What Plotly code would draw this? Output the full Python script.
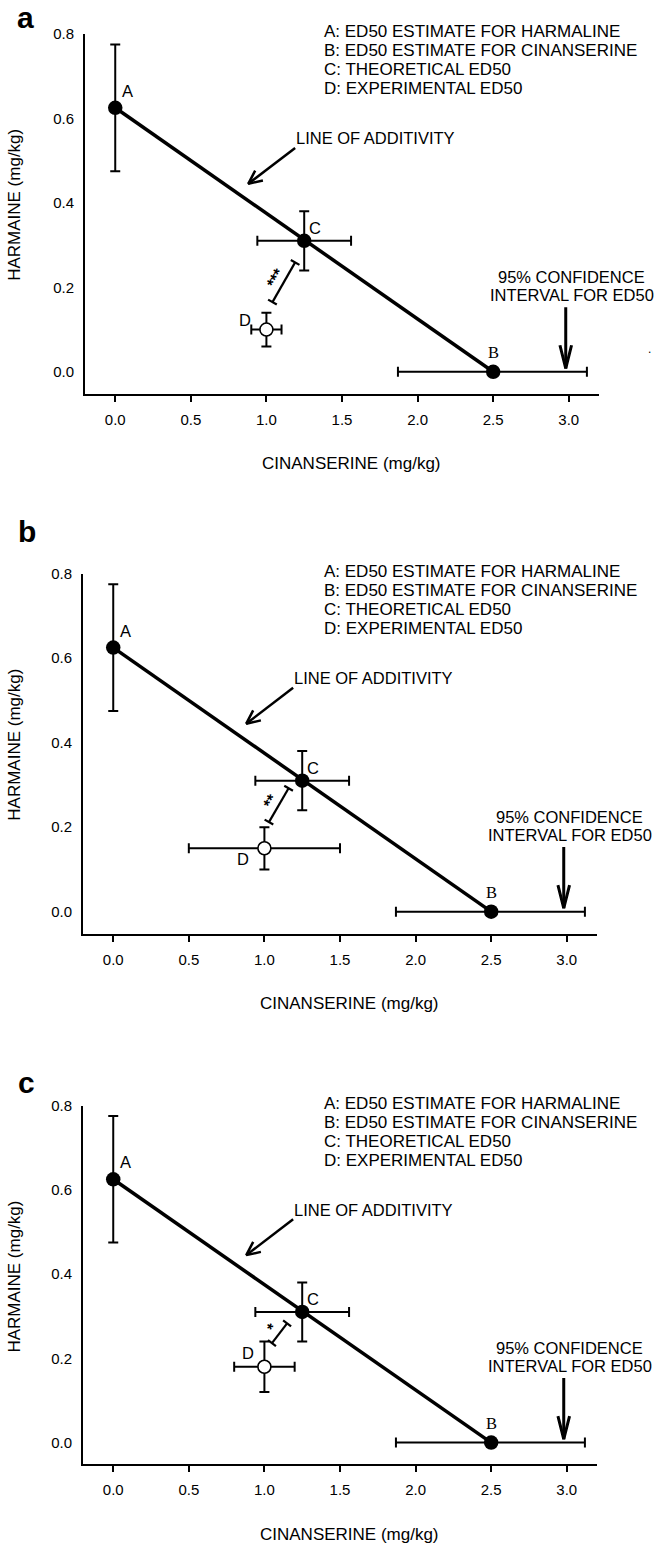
import math
import plotly.graph_objects as go

# ---------------- data ----------------
point_labels = ["A", "C", "B"]
point_x = [0.0, 1.25, 2.5]
point_y = [0.625, 0.31, 0.0]
point_x_lo = [0.0, 0.94, 1.87]
point_x_hi = [0.0, 1.56, 3.12]
point_y_lo = [0.475, 0.24, 0.0]
point_y_hi = [0.775, 0.38, 0.0]

exp_x = [1.0, 1.0, 1.0]
exp_y = [0.10, 0.15, 0.18]
exp_x_lo = [0.90, 0.50, 0.80]
exp_x_hi = [1.10, 1.50, 1.20]
exp_y_lo = [0.06, 0.10, 0.12]
exp_y_hi = [0.14, 0.20, 0.24]

sig_text = ["***", "**", "*"]
sig_x0 = [1.04, 1.03, 1.05]
sig_y0 = [0.165, 0.212, 0.236]
sig_x1 = [1.19, 1.16, 1.15]
sig_y1 = [0.259, 0.292, 0.283]

panel_letters = ["a", "b", "c"]
legend_lines = [
    "A: ED50 ESTIMATE FOR HARMALINE",
    "B: ED50 ESTIMATE FOR CINANSERINE",
    "C: THEORETICAL ED50",
    "D: EXPERIMENTAL ED50",
]
x_ticks = [0.0, 0.5, 1.0, 1.5, 2.0, 2.5, 3.0]
y_ticks = [0.0, 0.2, 0.4, 0.6, 0.8]
x_title = "CINANSERINE (mg/kg)"
y_title = "HARMAINE (mg/kg)"
additivity_text = "LINE OF ADDITIVITY"
additivity_text_pos = (1.185, 0.553)
additivity_tail = (1.19, 0.53)
additivity_head = (0.88, 0.445)
ci_text = ["95% CONFIDENCE", "INTERVAL FOR ED50"]
ci_text_pos = (3.02, [0.224, 0.181])
ci_tail = (2.98, 0.153)
ci_head = (2.98, 0.008)

# ---------------- layout geometry ----------------
W, H = 657, 1547
XR = [-0.2, 3.2]
YR = [-0.052, 0.8]
boxes = [(85, 599, 25, 387), (83, 597, 568, 930), (83, 597, 1103, 1464)]
FONT = "Liberation Sans, Arial, Helvetica, sans-serif"
SERIF = "Liberation Serif, Times New Roman, serif"


def d2p(i, x, y):
    l, r, t, b = boxes[i]
    px = l + (x - XR[0]) / (XR[1] - XR[0]) * (r - l)
    py = b - (y - YR[0]) / (YR[1] - YR[0]) * (b - t)
    return px, py


def p2d(i, px, py):
    l, r, t, b = boxes[i]
    x = XR[0] + (px - l) / (r - l) * (XR[1] - XR[0])
    y = YR[0] + (b - py) / (b - t) * (YR[1] - YR[0])
    return x, y


fig = go.Figure()
annotations = []
layout_axes = {}

for i in range(3):
    left, right, top, bottom = boxes[i]
    xa = "x" if i == 0 else f"x{i+1}"
    ya = "y" if i == 0 else f"y{i+1}"
    xkey = "xaxis" if i == 0 else f"xaxis{i+1}"
    ykey = "yaxis" if i == 0 else f"yaxis{i+1}"
    layout_axes[xkey] = dict(
        domain=[left / W, right / W], range=XR, anchor=ya,
        tickvals=x_ticks, tickformat=".1f", ticks="outside", ticklen=6, tickwidth=2,
        tickcolor="black", showline=True, linecolor="black", linewidth=2,
        showgrid=False, zeroline=False, tickfont=dict(family=FONT, size=15, color="black"),
        ticklabelstandoff=5, fixedrange=True,
    )
    layout_axes[ykey] = dict(
        domain=[1 - bottom / H, 1 - top / H], range=YR, anchor=xa,
        tickvals=y_ticks, tickformat=".1f", ticks="",
        showline=True, linecolor="black", linewidth=2,
        showgrid=False, zeroline=False, tickfont=dict(family=FONT, size=15, color="black"),
        ticklabelstandoff=6, fixedrange=True,
    )

    # line of additivity
    fig.add_trace(go.Scatter(x=[point_x[0], point_x[2]], y=[point_y[0], point_y[2]],
                             mode="lines", line=dict(color="black", width=3.5),
                             xaxis=xa, yaxis=ya, showlegend=False, hoverinfo="skip"))
    # y error bars (A, C)
    idx_y = [0, 1]
    fig.add_trace(go.Scatter(
        x=[point_x[k] for k in idx_y], y=[point_y[k] for k in idx_y], mode="markers",
        marker=dict(size=1, color="rgba(0,0,0,0)"),
        error_y=dict(type="data", symmetric=False,
                     array=[point_y_hi[k] - point_y[k] for k in idx_y],
                     arrayminus=[point_y[k] - point_y_lo[k] for k in idx_y],
                     color="black", thickness=2, width=5),
        xaxis=xa, yaxis=ya, showlegend=False, hoverinfo="skip"))
    # x error bars (C, B)
    idx_x = [1, 2]
    fig.add_trace(go.Scatter(
        x=[point_x[k] for k in idx_x], y=[point_y[k] for k in idx_x], mode="markers",
        marker=dict(size=1, color="rgba(0,0,0,0)"),
        error_x=dict(type="data", symmetric=False,
                     array=[point_x_hi[k] - point_x[k] for k in idx_x],
                     arrayminus=[point_x[k] - point_x_lo[k] for k in idx_x],
                     color="black", thickness=2, width=5),
        xaxis=xa, yaxis=ya, showlegend=False, hoverinfo="skip"))
    # experimental point with errors
    fig.add_trace(go.Scatter(
        x=[exp_x[i]], y=[exp_y[i]], mode="markers",
        marker=dict(size=13, color="white", line=dict(color="black", width=1.6)),
        error_x=dict(type="data", symmetric=False, array=[exp_x_hi[i] - exp_x[i]],
                     arrayminus=[exp_x[i] - exp_x_lo[i]], color="black", thickness=2, width=5),
        error_y=dict(type="data", symmetric=False, array=[exp_y_hi[i] - exp_y[i]],
                     arrayminus=[exp_y[i] - exp_y_lo[i]], color="black", thickness=2, width=5),
        xaxis=xa, yaxis=ya, showlegend=False, hoverinfo="skip"))
    # filled points
    fig.add_trace(go.Scatter(x=point_x, y=point_y, mode="markers",
                             marker=dict(size=14.5, color="black"),
                             xaxis=xa, yaxis=ya, showlegend=False, hoverinfo="skip"))

    # significance bracket
    p0 = d2p(i, sig_x0[i], sig_y0[i])
    p1 = d2p(i, sig_x1[i], sig_y1[i])
    dx, dy = p1[0] - p0[0], p1[1] - p0[1]
    L = math.hypot(dx, dy)
    nx, ny = -dy / L, dx / L
    cap = 5
    bx, by = [], []
    for (a, c) in [(p0, p1),
                   ((p0[0] + nx * cap, p0[1] + ny * cap), (p0[0] - nx * cap, p0[1] - ny * cap)),
                   ((p1[0] + nx * cap, p1[1] + ny * cap), (p1[0] - nx * cap, p1[1] - ny * cap))]:
        d1 = p2d(i, *a); d2 = p2d(i, *c)
        bx += [d1[0], d2[0], None]; by += [d1[1], d2[1], None]
    fig.add_trace(go.Scatter(x=bx, y=by, mode="lines", line=dict(color="black", width=2.2),
                             xaxis=xa, yaxis=ya, showlegend=False, hoverinfo="skip"))
    ang = math.degrees(math.atan2(dy, dx))
    mx, my = (p0[0] + p1[0]) / 2, (p0[1] + p1[1]) / 2
    sx, sy = (nx, ny) if nx < 0 else (-nx, -ny)
    sp = p2d(i, mx + sx * 9, my + sy * 9)
    annotations.append(dict(x=sp[0], y=sp[1], xref=xa, yref=ya, text=f"<b>{sig_text[i]}</b>",
                            showarrow=False, textangle=ang,
                            font=dict(family=FONT, size=16, color="black")))

    # arrows
    for (tail, head, arm, half, lw) in [(additivity_tail, additivity_head, 15, 25, 2.5),
                                        (ci_tail, ci_head, 24, 14, 3)]:
        tx, ty = d2p(i, *tail)
        hx, hy = d2p(i, *head)
        ux, uy = (tx - hx), (ty - hy)
        Ln = math.hypot(ux, uy); ux /= Ln; uy /= Ln
        ax_, ay_ = [], []
        tp = p2d(i, tx, ty); hp = p2d(i, hx, hy)
        ax_ += [tp[0], hp[0], None]; ay_ += [tp[1], hp[1], None]
        pts = []
        for s in (1, -1):
            a = math.radians(half) * s
            vx = ux * math.cos(a) - uy * math.sin(a)
            vy = ux * math.sin(a) + uy * math.cos(a)
            pts.append(p2d(i, hx + vx * arm, hy + vy * arm))
        ax_ += [pts[0][0], hp[0], pts[1][0]]; ay_ += [pts[0][1], hp[1], pts[1][1]]
        fig.add_trace(go.Scatter(x=ax_, y=ay_, mode="lines",
                                 line=dict(color="black", width=lw),
                                 xaxis=xa, yaxis=ya, showlegend=False, hoverinfo="skip"))

    # point labels
    lab_off = {"A": (12, 17), "C": (11, 13), "B": (0, 19)}
    for k, name in enumerate(point_labels):
        ox, oy = lab_off[name]
        annotations.append(dict(x=point_x[k], y=point_y[k], xref=xa, yref=ya, text=name,
                                showarrow=False, xshift=ox, yshift=oy,
                                font=dict(family=SERIF if name == "B" else FONT,
                                          size=16.5, color="black")))
    d_off = [(-21, 10), (-21, -11), (-16, 14)][i]
    annotations.append(dict(x=exp_x[i], y=exp_y[i], xref=xa, yref=ya, text="D",
                            showarrow=False, xshift=d_off[0], yshift=d_off[1],
                            font=dict(family=FONT, size=16.5, color="black")))

    # legend text
    for j, line in enumerate(legend_lines):
        annotations.append(dict(x=322 / W, y=1 - (top - 2 + 19 * j) / H, xref="paper", yref="paper",
                                text=line, showarrow=False, xanchor="left", yanchor="middle",
                                font=dict(family=FONT, size=17, color="black")))
    # additivity label
    annotations.append(dict(x=additivity_text_pos[0], y=additivity_text_pos[1], xref=xa, yref=ya,
                            text=additivity_text, showarrow=False, xanchor="left",
                            yanchor="middle", font=dict(family=FONT, size=16.5, color="black")))
    # CI label
    for j, line in enumerate(ci_text):
        annotations.append(dict(x=ci_text_pos[0], y=ci_text_pos[1][j], xref=xa, yref=ya,
                                text=line, showarrow=False, xanchor="center", yanchor="middle",
                                font=dict(family=FONT, size=16.5, color="black")))
    # axis titles
    annotations.append(dict(x=(left + 266) / W, y=1 - (bottom + 70) / H, xref="paper", yref="paper",
                            text=x_title, showarrow=False, xanchor="center", yanchor="middle",
                            font=dict(family=FONT, size=17, color="black")))
    annotations.append(dict(x=15 / W, y=1 - (top + 172) / H, xref="paper", yref="paper",
                            text=y_title, showarrow=False, textangle=-90, xanchor="center",
                            yanchor="middle", font=dict(family=FONT, size=17, color="black")))
    # panel letter
    letter_pos = [(25, 9), (27, 526), (26, 1080)][i]
    annotations.append(dict(x=letter_pos[0] / W, y=1 - letter_pos[1] / H, xref="paper",
                            yref="paper", text=f"<b>{panel_letters[i]}</b>", showarrow=False,
                            xanchor="center", yanchor="middle",
                            font=dict(family=FONT, size=30, color="black")))

# stray dot in panel a
annotations.append(dict(x=653 / W, y=1 - 333 / H, xref="paper", yref="paper", text=".",
                        showarrow=False, font=dict(family=FONT, size=12, color="black")))

fig.update_layout(
    width=W, height=H, autosize=False,
    margin=dict(l=0, r=0, t=0, b=0),
    paper_bgcolor="white", plot_bgcolor="white",
    showlegend=False, annotations=annotations, **layout_axes,
)

fig.write_html("out.html", config={"displayModeBar": False},
               post_script="document.body.style.margin='0';document.body.style.padding='0';")
